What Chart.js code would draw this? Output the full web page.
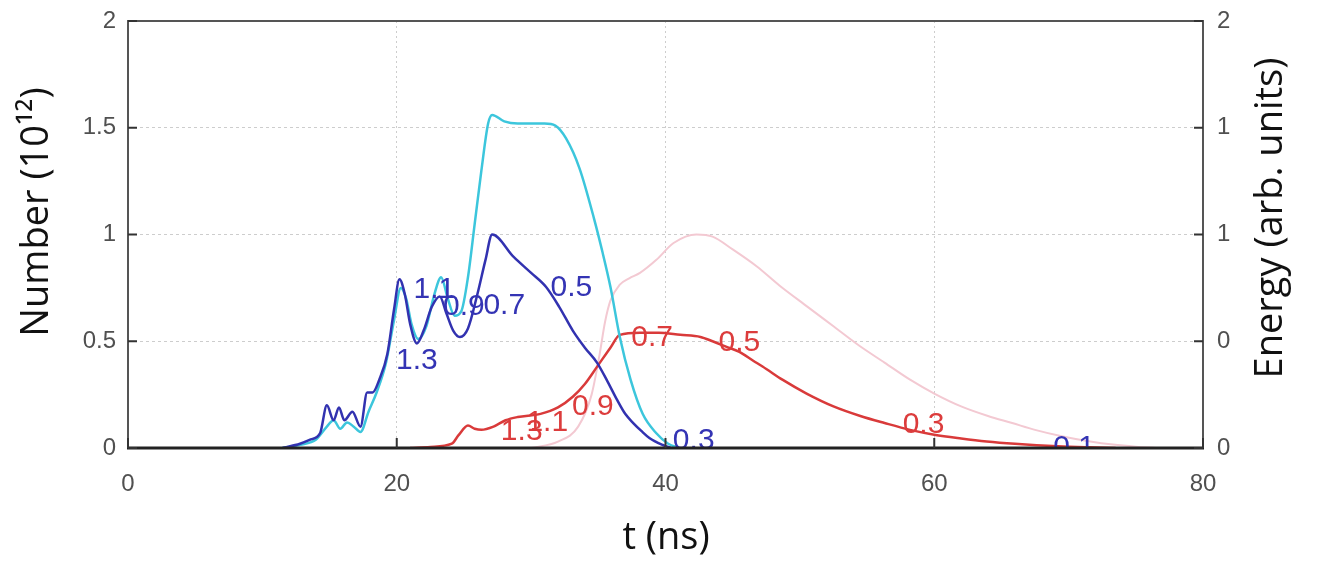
<!DOCTYPE html>
<html>
<head>
<meta charset="utf-8">
<script src="https://cdn.jsdelivr.net/npm/chart.js@4"></script>
<style>
  body { margin: 0; background: #fff; }
  canvas { display: block; }
</style>
</head>
<body>
<canvas id="pulseChart" width="1322" height="562"></canvas>
<script>
// axis ticks
var leftTicks = [0, 0.5, 1, 1.5, 2];
var leftTickLabels = ['0', '0.5', '1', '1.5', '2'];
var rightTickLabels = ['0', '0', '1', '1', '2'];

// dark blue curve (number)
var blueT = [11.5, 12.8, 13.6, 14.3, 14.8, 15.3, 15.7, 16.1, 16.7, 17.3, 17.8, 18.2, 18.7, 19.3, 19.8, 20.2, 20.6, 21.0, 21.5, 22.0, 22.6, 23.2, 23.7, 24.2, 24.7, 25.3, 26.0, 26.6, 27.1, 28.7, 30.0, 31.1, 32.1, 33.1, 34.0, 34.9, 35.7, 36.4, 37.0, 37.6, 38.2, 38.8, 39.8, 40.4];
var blueN = [0, 0.02, 0.04, 0.07, 0.20, 0.13, 0.19, 0.13, 0.17, 0.10, 0.26, 0.26, 0.32, 0.44, 0.65, 0.79, 0.72, 0.58, 0.49, 0.55, 0.66, 0.71, 0.63, 0.55, 0.52, 0.56, 0.72, 0.88, 1.0, 0.895, 0.82, 0.755, 0.66, 0.55, 0.47, 0.40, 0.31, 0.225, 0.16, 0.117, 0.08, 0.047, 0.014, 0];

// cyan curve
var cyanT = [11.5, 12.8, 14.0, 14.8, 15.3, 15.8, 16.3, 16.8, 17.3, 17.9, 18.5, 19.2, 19.8, 20.3, 20.7, 21.1, 21.6, 22.2, 22.8, 23.3, 23.8, 24.3, 24.8, 25.3, 25.8, 26.3, 26.8, 27.1, 28.0, 29.0, 30.0, 31.0, 31.8, 32.6, 33.6, 34.7, 35.3, 35.9, 36.6, 37.4, 38.3, 39.3, 40.2, 41.0];
var cyanN = [0, 0.015, 0.04, 0.10, 0.13, 0.09, 0.12, 0.10, 0.075, 0.17, 0.26, 0.40, 0.60, 0.75, 0.70, 0.58, 0.51, 0.57, 0.72, 0.80, 0.70, 0.62, 0.64, 0.80, 1.05, 1.30, 1.52, 1.56, 1.53, 1.52, 1.52, 1.52, 1.51, 1.45, 1.31, 1.07, 0.92, 0.755, 0.52, 0.32, 0.16, 0.07, 0.02, 0];

// red curve
var redT = [21.0, 22.5, 24.1, 24.6, 25.3, 25.8, 26.3, 27.2, 28.1, 29.0, 30.7, 32.0, 33.1, 34.0, 34.9, 35.9, 36.6, 38.1, 39.5, 41.1, 42.6, 43.5, 44.5, 45.5, 46.5, 47.5, 48.7, 50.5, 52.5, 54.5, 56.3, 58.2, 60.0, 62.0, 63.9, 66.0, 69.2, 71.5, 73.5];
var redN = [0, 0.005, 0.02, 0.06, 0.105, 0.09, 0.085, 0.10, 0.13, 0.145, 0.16, 0.19, 0.24, 0.30, 0.38, 0.47, 0.53, 0.54, 0.54, 0.53, 0.52, 0.50, 0.475, 0.45, 0.41, 0.37, 0.32, 0.255, 0.195, 0.15, 0.117, 0.085, 0.0625, 0.045, 0.031, 0.02, 0.008, 0.003, 0];

// pale pink curve (energy)
var pinkT = [30.0, 32.0, 33.5, 34.5, 35.1, 35.5, 35.9, 36.6, 37.3, 38.1, 39.3, 40.6, 42.3, 43.5, 45.0, 46.8, 48.5, 50.6, 52.5, 54.4, 56.3, 58.2, 60.0, 62.0, 64.0, 65.8, 67.5, 69.5, 71.5, 73.3, 75.0, 76.5];
var pinkN = [0, 0.03, 0.10, 0.25, 0.44, 0.59, 0.69, 0.765, 0.795, 0.82, 0.88, 0.96, 1.0, 0.99, 0.93, 0.85, 0.76, 0.66, 0.57, 0.48, 0.40, 0.32, 0.255, 0.195, 0.15, 0.117, 0.085, 0.055, 0.032, 0.016, 0.006, 0];

// curve labels
var blueLabels = ['1.1', '0.9', '0.7', '0.5', '1.3', '0.3', '0.1'];
var blueLabelT = [22.8, 25.0, 28.0, 33.0, 21.5, 42.1, 70.4];
var blueLabelN = [0.74, 0.66, 0.665, 0.75, 0.41, 0.035, 0.0];
var redLabels = ['0.7', '0.5', '0.9', '1.1', '1.3', '0.3'];
var redLabelT = [39.0, 45.5, 34.6, 31.2, 29.3, 59.2];
var redLabelN = [0.515, 0.495, 0.195, 0.12, 0.075, 0.11];

function pts(t, n) {
    return t.map(function(v, i) { return {x: v, y: n[i]}; });
}

function line(t, n, color, width) {
    return {
        data: pts(t, n),
        borderColor: color,
        borderWidth: width,
        pointRadius: 0,
        cubicInterpolationMode: 'monotone',
        fill: false
    };
}

var curveLabels = {
    id: 'curveLabels',
    afterDatasetsDraw: function(chart) {
        var ctx = chart.ctx, a = chart.chartArea;
        var sx = chart.scales.x, sy = chart.scales.y;
        ctx.save();
        ctx.beginPath();
        ctx.rect(a.left, a.top, a.right - a.left, a.bottom - a.top);
        ctx.clip();
        ctx.font = '30px "Liberation Sans"';
        ctx.textAlign = 'center';
        ctx.textBaseline = 'middle';
        ctx.fillStyle = '#3434b4';
        blueLabels.forEach(function(s, i) {
            ctx.fillText(s, sx.getPixelForValue(blueLabelT[i]), sy.getPixelForValue(blueLabelN[i]));
        });
        ctx.fillStyle = '#dc3c3c';
        redLabels.forEach(function(s, i) {
            ctx.fillText(s, sx.getPixelForValue(redLabelT[i]), sy.getPixelForValue(redLabelN[i]));
        });
        ctx.restore();
    }
};

// plot frame, inward tick marks and axis titles
var frame = {
    id: 'frame',
    afterDraw: function(chart) {
        var ctx = chart.ctx, a = chart.chartArea;
        var sx = chart.scales.x, sy = chart.scales.y;
        ctx.save();
        ctx.strokeStyle = '#555';
        ctx.lineWidth = 2;
        ctx.strokeRect(a.left, a.top, a.right - a.left, a.bottom - a.top);
        ctx.strokeStyle = '#222';
        ctx.lineWidth = 3;
        ctx.beginPath();
        ctx.moveTo(a.left - 1, a.bottom);
        ctx.lineTo(a.right + 1, a.bottom);
        ctx.stroke();
        ctx.strokeStyle = '#333';
        ctx.lineWidth = 2;
        ctx.beginPath();
        sy.ticks.forEach(function(tk) {
            var p = sy.getPixelForValue(tk.value);
            ctx.moveTo(a.left, p); ctx.lineTo(a.left + 9, p);
            ctx.moveTo(a.right, p); ctx.lineTo(a.right - 9, p);
        });
        sx.ticks.forEach(function(tk) {
            var p = sx.getPixelForValue(tk.value);
            ctx.moveTo(p, a.bottom); ctx.lineTo(p, a.bottom - 10);
        });
        ctx.stroke();

        ctx.fillStyle = '#111';
        ctx.font = '38px "Open Sans"';
        ctx.textAlign = 'center';
        ctx.textBaseline = 'middle';
        ctx.fillText('t (ns)', 666, 538);
        ctx.save();
        ctx.translate(37, 212);
        ctx.rotate(-Math.PI / 2);
        ctx.fillText('Number (10\u00b9\u00b2)', 0, 0);
        ctx.restore();
        ctx.save();
        ctx.translate(1271, 218);
        ctx.rotate(-Math.PI / 2);
        ctx.fillText('Energy (arb. units)', 0, 0);
        ctx.restore();
        ctx.restore();
    }
};

var tickFont = {family: '"Liberation Sans"', size: 24};
var tickColor = '#505050';
var gridStyle = {color: '#cdcdcd', lineWidth: 1, drawTicks: false};

function fitY(width) {
    return function(s) {
        s.width = width;
        s.paddingTop = 0;
        s.paddingBottom = 0;
    };
}

new Chart(document.getElementById('pulseChart').getContext('2d'), {
    type: 'line',
    data: {
        datasets: [
            line(blueT, blueN, '#3232b0', 2.5),
            line(cyanT, cyanN, '#3cc6dc', 2.5),
            line(redT, redN, '#d93a3a', 2.5),
            line(pinkT, pinkN, '#f3c9d2', 2)
        ]
    },
    options: {
        responsive: false,
        devicePixelRatio: 1,
        animation: false,
        layout: {padding: {top: 21, left: 0, right: 0, bottom: 0}},
        plugins: {legend: {display: false}, tooltip: {enabled: false}},
        scales: {
            x: {
                type: 'linear',
                min: 0, max: 80,
                grid: gridStyle,
                border: {display: false, dash: [2, 3]},
                ticks: {stepSize: 20, padding: 22, color: tickColor, font: tickFont, maxRotation: 0},
                afterFit: function(s) { s.height = 114; }
            },
            y: {
                position: 'left',
                min: 0, max: 2,
                grid: gridStyle,
                border: {display: false, dash: [3, 3]},
                ticks: {
                    stepSize: 0.5, padding: 12, color: tickColor, font: tickFont,
                    callback: function(v) { return leftTickLabels[leftTicks.indexOf(v)]; }
                },
                afterFit: fitY(128)
            },
            y2: {
                position: 'right',
                min: 0, max: 2,
                grid: {drawOnChartArea: false, drawTicks: false},
                border: {display: false},
                ticks: {
                    stepSize: 0.5, padding: 14, color: tickColor, font: tickFont,
                    callback: function(v) { return rightTickLabels[leftTicks.indexOf(v)]; }
                },
                afterFit: fitY(119)
            }
        }
    },
    plugins: [curveLabels, frame]
});
</script>
</body>
</html>
